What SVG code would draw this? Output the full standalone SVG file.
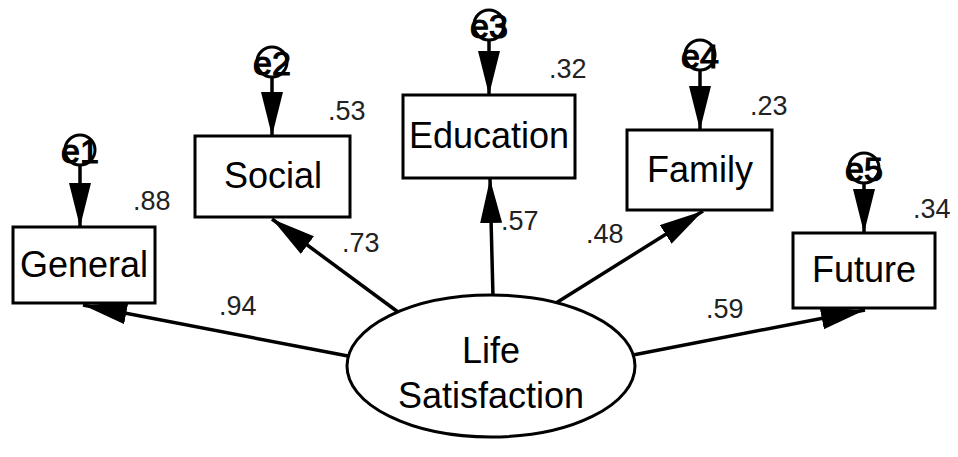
<svg xmlns="http://www.w3.org/2000/svg" width="958" height="457" viewBox="0 0 958 457">
<defs>
<marker id="ah" markerUnits="userSpaceOnUse" markerWidth="46" markerHeight="24" refX="44" refY="11" orient="auto">
<path d="M0,0 L44,11 L0,22 z" fill="#000"/>
</marker>
<style>
.box{fill:#fff;stroke:#000;stroke-width:3}
.lbl{font-family:"Liberation Sans",Arial,sans-serif;font-size:36px;fill:#000;text-anchor:middle}
.num{font-family:"Liberation Sans",Arial,sans-serif;font-size:27px;fill:#222}
.err{fill:#fff;stroke:#000;stroke-width:3}
.etx{font-family:"Liberation Sans",Arial,sans-serif;font-size:34px;fill:#000;stroke:#000;stroke-width:1.2;text-anchor:middle}
.con{stroke:#000;stroke-width:3.5;fill:none;marker-end:url(#ah)}
</style>
</defs>
<rect width="958" height="457" fill="#fff"/>
<g id="connectors">
<line class="con" x1="348" y1="356" x2="83" y2="305"/>
<line class="con" x1="398" y1="312" x2="272" y2="219"/>
<line class="con" x1="493" y1="297" x2="490" y2="179"/>
<line class="con" x1="556" y1="303" x2="703" y2="211"/>
<line class="con" x1="633" y1="355" x2="865" y2="310"/>
<line class="con" x1="80" y1="165" x2="80" y2="227"/>
<line class="con" x1="272" y1="77" x2="272" y2="136"/>
<line class="con" x1="489" y1="40" x2="489" y2="95"/>
<line class="con" x1="700" y1="70" x2="700" y2="130"/>
<line class="con" x1="864" y1="183" x2="864" y2="233"/>
</g>
<g id="life">
<ellipse cx="491" cy="366" rx="144" ry="71" fill="#fff" stroke="#000" stroke-width="3"/>
<text class="lbl" x="491" y="363">Life</text>
<text class="lbl" x="491" y="408">Satisfaction</text>
</g>
<g id="general">
<rect class="box" x="13" y="227" width="142" height="76"/>
<text class="lbl" x="84" y="277">General</text>
<text class="num" x="133" y="210">.88</text>
</g>
<g id="social">
<rect class="box" x="195" y="136" width="155" height="81"/>
<text class="lbl" x="273" y="188">Social</text>
<text class="num" x="328" y="120">.53</text>
</g>
<g id="education">
<rect class="box" x="403" y="95" width="172" height="83"/>
<text class="lbl" x="489" y="148">Education</text>
<text class="num" x="549" y="78">.32</text>
</g>
<g id="family">
<rect class="box" x="627" y="130" width="145" height="80"/>
<text class="lbl" x="700" y="182">Family</text>
<text class="num" x="750" y="115">.23</text>
</g>
<g id="future">
<rect class="box" x="793" y="233" width="142" height="75"/>
<text class="lbl" x="864" y="282">Future</text>
<text class="num" x="913" y="218">.34</text>
</g>
<g id="e1">
<circle class="err" cx="80" cy="150" r="15"/>
<text class="etx" x="80" y="163">e1</text>
</g>
<g id="e2">
<circle class="err" cx="272" cy="62" r="15"/>
<text class="etx" x="272" y="75">e2</text>
</g>
<g id="e3">
<circle class="err" cx="489" cy="25" r="15"/>
<text class="etx" x="489" y="38">e3</text>
</g>
<g id="e4">
<circle class="err" cx="700" cy="55" r="15"/>
<text class="etx" x="700" y="68">e4</text>
</g>
<g id="e5">
<circle class="err" cx="864" cy="168" r="15"/>
<text class="etx" x="864" y="181">e5</text>
</g>
<g id="path-labels">
<text class="num" x="219" y="315">.94</text>
<text class="num" x="342" y="252">.73</text>
<text class="num" x="501" y="230">.57</text>
<text class="num" x="586" y="243">.48</text>
<text class="num" x="706" y="318">.59</text>
</g>
</svg>
